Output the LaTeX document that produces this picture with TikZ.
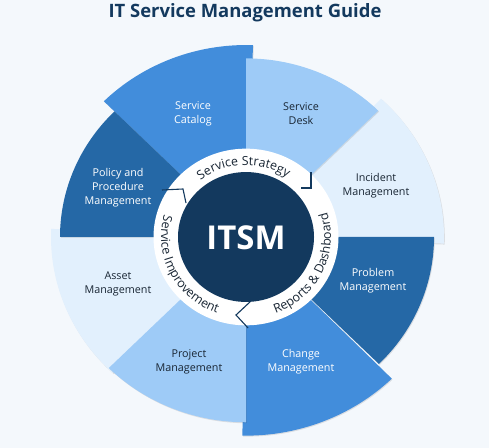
\documentclass[tikz,border=0pt]{standalone}
\usepackage{fontspec}
\setmainfont{Open Sans}
\usetikzlibrary{decorations.text}

\definecolor{bgc}{RGB}{244,248,252}
\definecolor{navy}{RGB}{19,57,94}
\definecolor{midblue}{RGB}{66,141,219}
\definecolor{darkblue}{RGB}{37,104,166}
\definecolor{lightblue}{RGB}{158,203,247}
\definecolor{paleblue}{RGB}{226,240,253}
\definecolor{inktext}{RGB}{25,38,52}

\tikzset{
  seglabel/.style={align=center, font=\fontsize{10.8}{14}\selectfont, inner sep=0pt},
  ondark/.style={seglabel, text=white},
  onlight/.style={seglabel, text=inktext},
  junction/.style={draw=navy, line width=1.1bp, line join=miter},
}

% one wedge of the wheel: colour, start angle, end angle, radius
\newcommand\wheelsector[4]{%
  \fill[black, opacity=0.10, shift={(0.8,-1.0)}] (0,0) -- (#2:#4)
    arc[start angle=#2, end angle=#3, radius=#4] -- cycle;
  \fill[#1] (0,0) -- (#2:#4) arc[start angle=#2, end angle=#3, radius=#4] -- cycle;}
\newcommand\ringfont{\fontsize{12.5}{14}\selectfont\color{inktext}}

\begin{document}
\begin{tikzpicture}[x=1bp, y=1bp]
  \useasboundingbox (0,0) rectangle (489,448);
  \fill[bgc] (0,0) rectangle (489,448);

  \node[font=\fontsize{18.5}{22}\selectfont\bfseries, text=navy] (title) at (245,435) {IT Service Management Guide};

  \begin{scope}[shift={(246,211)}, yscale=0.955]
    % lower wedges, partly covered by their neighbours
    \wheelsector{midblue}{88}{135}{201}
    \wheelsector{paleblue}{-2}{47}{198}
    \wheelsector{midblue}{-91}{-45.5}{208}
    \wheelsector{paleblue}{177.5}{227}{195}
    % upper wedges
    \wheelsector{lightblue}{45}{90}{187}
    \wheelsector{darkblue}{-45}{0}{188}
    \wheelsector{lightblue}{-135}{-90}{194}
    \wheelsector{darkblue}{135}{180}{186}

    % white ring and hub
    \fill[white] (0,0) circle[radius=92.5];
    \fill[navy] (0,0) circle[radius=68];

    % ring captions
    \path[decorate, decoration={text along path, text align=center,
      text={|\ringfont|Service Strategy}}]
      (133:75) arc[start angle=133, end angle=51, radius=75];
    \path[decorate, decoration={text along path, text align=center,
      text={|\ringfont|Reports {\&} Dashboard}}]
      (-74:85) arc[start angle=-74, end angle=22, radius=85];
    \path[decorate, decoration={text along path, text align=center,
      text={|\ringfont|Service Improvement}}]
      (158:85) arc[start angle=158, end angle=256, radius=85];
  \end{scope}

  % arrow joints in the ring
  \coordinate (j1a) at (301,260); \coordinate (j1b) at (311,260); \coordinate (j1c) at (311,276);
  \draw[junction] (j1a) -- (j1b) -- (j1c);
  \coordinate (j2a) at (162,258); \coordinate (j2b) at (183,259); \coordinate (j2c) at (186,245);
  \draw[junction] (j2a) -- (j2b) -- (j2c);
  \coordinate (j3a) at (251,147); \coordinate (j3b) at (236,133); \coordinate (j3c) at (248,120);
  \draw[junction] (j3a) -- (j3b) -- (j3c);

  \node[text=white, font=\fontsize{33}{38}\selectfont\bfseries] (hub) at (246,210) {ITSM};

  \node[ondark]  (catalog)  at (193,334) {Service\\Catalog};
  \node[onlight] (desk)     at (301,334) {Service\\Desk};
  \node[onlight] (incident) at (376,262) {Incident\\Management};
  \node[ondark]  (problem)  at (373,167) {Problem\\Management};
  \node[ondark]  (change)   at (301,86)  {Change\\Management};
  \node[onlight] (project)  at (189,86)  {Project\\Management};
  \node[onlight] (asset)    at (118,164) {Asset\\Management};
  \node[ondark]  (policy)   at (118,260) {Policy and\\Procedure\\Management};
\end{tikzpicture}
\end{document}
